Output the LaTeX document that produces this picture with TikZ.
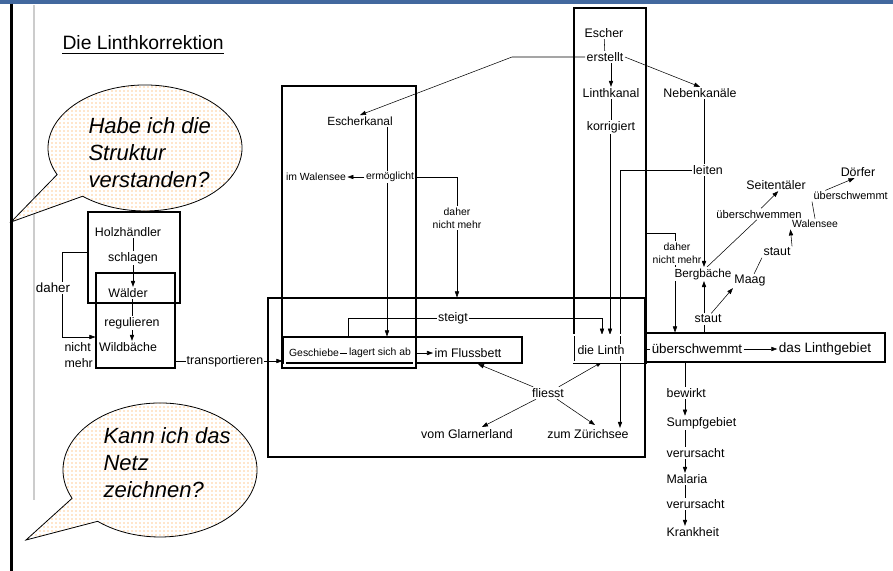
\documentclass[tikz,border=0pt]{standalone}
\usepackage{fontspec}
\setmainfont{Liberation Sans}
\usetikzlibrary{arrows.meta,patterns,fit}
\pgfdeclarelayer{bg}
\pgfsetlayers{bg,main}
\definecolor{balken}{RGB}{66,104,158}
\tikzset{
  lbl/.style={font=\fontsize{9.3}{12}\selectfont, inner sep=0.8pt, fill=white},
  lblklein/.style={lbl, font=\fontsize{7.8}{10}\selectfont},
  kasten/.style={draw, inner sep=0pt, line width=0.8pt},
  dickkasten/.style={draw, double, double distance=1pt, line width=0.5pt, inner sep=0pt},
  pfeil/.style={-{Triangle[length=4.5pt,width=3.2pt]}},
  bubble/.style={draw, line width=0.6pt, preaction={fill=white}, pattern=dots, pattern color=orange!85},
  bubtxt/.style={font=\fontsize{16.5}{20.3}\selectfont\itshape, align=left, inner sep=0pt},
  titel/.style={font=\fontsize{14.5}{16}\selectfont, inner sep=0pt},
}
\begin{document}
\begin{tikzpicture}[x=0.75pt,y=0.75pt,yscale=-1,xscale=1,line width=0.8pt]
  \useasboundingbox (0,0) rectangle (893,571);
  % Rahmen
  \fill[balken] (0,0) rectangle (893,3.5);
  \draw[line width=2.2pt] (11.5,3.5) -- (11.5,571);
  \draw[black!20, line width=0.8pt] (34,5) -- (34,500);
  % Titel
  \node[titel, anchor=base west] (titel) at (62,50) {Die Linthkorrektion};
  \draw (titel.south west) ++(0,3) coordinate (ul) -- (ul -| titel.south east);
  % Sprechblasen
  \path[bubble] (11,222) -- (57.1,174.6) arc[start angle=155, end angle=490, x radius=97, y radius=63] -- cycle;
  \node[bubtxt, anchor=north west] (frage1) at (88,117) {Habe ich die\\Struktur\\verstanden?};
  \path[bubble] (26,540) -- (72.1,498.3) arc[start angle=155, end angle=490, x radius=97, y radius=67] -- cycle;
  \node[bubtxt, anchor=north west] (frage2) at (103,427) {Kann ich das\\Netz\\zeichnen?};

  % Holzhaendler
  \node[kasten, fit={(88,212) (180,303)}] (holzbox) {};
  \node[kasten, fit={(96,273) (175,368)}] (waldbox) {};
  \node[lbl] (holz) at (128,232) {Holzhändler};
  \node[lbl] (schlagen) at (133,258) {schlagen};
  \node[lbl] (waelder) at (128,293) {Wälder};
  \node[lbl] (regul) at (132,323) {regulieren};
  \node[lbl] (wild) at (128,347) {Wildbäche};
  \node[lbl, font=\fontsize{10}{12}\selectfont] (daher) at (53,288) {daher};
  \node[lbl, align=left, anchor=west] (nichtmehr) at (63,355) {nicht\\mehr};
  \node[lbl] (transp) at (225,361) {transportieren};

  % Escherkanal / Flussbett
  \node[kasten, fit={(282,86) (416,368)}] (ekbox) {};
  \node[kasten, fit={(268,298) (645,457)}] (grossbox) {};
  \node[kasten, fit={(283,337) (522,363)}] (flussbox) {};
  \node[dickkasten, fit={(285,340) (414,366)}] (gbox) {};
  \node[lbl, font=\fontsize{8.9}{10}\selectfont] (eskanal) at (360,121) {Escherkanal};
  \node[lblklein] (ermoegl) at (390,177) {ermöglicht};
  \node[lblklein] (walen1) at (316,177) {im Walensee};
  \node[lblklein, align=center] (daher2) at (457,218) {daher\\nicht mehr};
  \node[lblklein] (geschiebe) at (314,353) {Geschiebe};
  \node[lblklein] (lagert) at (380,353) {lagert sich ab};
  \node[lbl] (flussbett) at (468,353) {im Flussbett};
  \node[lbl] (steigt) at (453,318) {steigt};
  \node[lbl] (fliesst) at (548,393) {fliesst};
  \node[lbl] (glarner) at (467,434) {vom Glarnerland};
  \node[lbl] (zuerich) at (588,434) {zum Zürichsee};

  % Escher
  \node[kasten, fit={(574,8) (646,363)}] (escherbox) {};
  \node[dickkasten, fit={(573,335) (643,362)}] (linthbox) {};
  \node[kasten, fit={(646,333) (885,362)}] (ueberbox) {};
  \node[lbl] (escher) at (604,33) {Escher};
  \node[lbl] (erstellt) at (605,57) {erstellt};
  \node[lbl] (lkanal) at (611,93) {Linthkanal};
  \node[lbl] (korr) at (611,127) {korrigiert};
  \node[lbl] (linth) at (601,350) {die Linth};
  \node[lbl] (neben) at (700,93) {Nebenkanäle};
  \node[lbl] (leiten) at (708,170) {leiten};
  \node[lblklein, align=center] (daher3) at (677,253) {daher\\nicht mehr};
  \node[lbl, font=\fontsize{8.8}{10}\selectfont] (berg) at (703,274) {Bergbäche};
  \node[lbl] (staut1) at (708,319) {staut};
  \node[lbl] (maag) at (750,281) {Maag};
  \node[lbl] (staut2) at (777,252) {staut};
  \node[lblklein] (walen2) at (815,224) {Walensee};
  \node[lblklein, font=\fontsize{8.2}{10}\selectfont, anchor=west] (ueber2) at (812,196) {überschwemmt};
  \node[lbl] (doerfer) at (858,172) {Dörfer};
  \node[lblklein, font=\fontsize{8.4}{10}\selectfont] (ueber1) at (759,214) {überschwemmen};
  \node[lbl] (seiten) at (776,185) {Seitentäler};
  \node[lbl, font=\fontsize{10}{12}\selectfont] (ueber3) at (697,349) {überschwemmt};
  \node[lbl, font=\fontsize{10.2}{12}\selectfont] (gebiet) at (825,349) {das Linthgebiet};
  \node[lbl, anchor=west] (bewirkt) at (665,393) {bewirkt};
  \node[lbl, anchor=west] (sumpf) at (665,423) {Sumpfgebiet};
  \node[lbl, anchor=west] (verurs1) at (665,453) {verursacht};
  \node[lbl, anchor=west] (malaria) at (665,479) {Malaria};
  \node[lbl, anchor=west] (verurs2) at (665,504) {verursacht};
  \node[lbl, anchor=west] (krank) at (665,532) {Krankheit};

  \begin{pgfonlayer}{bg}
    % links
    \draw (holz.south -| schlagen) -- (schlagen.north);
    \draw[pfeil] (schlagen) -- (waelder.north -| schlagen);
    \draw (waelder.south -| regul) -- (regul);
    \draw[pfeil] (regul) -- (wild.north -| regul);
    \coordinate (dh1) at (62,252);
    \coordinate (dh2) at (62,337);
    \draw[pfeil] (holzbox.west |- dh1) -- (dh1) -- (dh2) -- (waldbox.west |- dh2);
    \draw[pfeil] (waldbox.east |- transp) -- (flussbox.west |- transp);
    % Mitte
    \coordinate (ek) at (512,57);
    \draw[pfeil] (erstellt.west) -- (ek) -- (eskanal.north);
    \coordinate (ev) at (387,300);
    \draw (eskanal.south -| ev) -- (ermoegl.north -| ev);
    \draw[pfeil] (ermoegl.south -| ev) -- (flussbox.north -| ev);
    \draw[pfeil] (ermoegl) -- (walen1);
    \coordinate (dn) at (457,177);
    \draw[pfeil] (ermoegl.east) -- (dn) -- (grossbox.north -| dn);
    \draw (geschiebe) -- (lagert);
    \draw[pfeil] (gbox.east |- flussbett) -- (flussbett.west);
    \coordinate (st1) at (348,318);
    \coordinate (st2) at (602,318);
    \draw[pfeil] (flussbox.north -| st1) -- (st1) -- (st2) -- (linthbox.north -| st2);
    \coordinate (fl1) at (478,364);
    \coordinate (fl2) at (482,427);
    \coordinate (fl3) at (602,362);
    \coordinate (fl4) at (595,425);
    \draw[pfeil] (fliesst) -- (fl1);
    \draw[pfeil] (fliesst) -- (fl2);
    \draw[pfeil] (fliesst) -- (fl3);
    \draw[pfeil] (fliesst) -- (fl4);
    % rechts
    \draw (escher) -- (erstellt);
    \draw[pfeil] (erstellt.south -| lkanal) -- (lkanal.north);
    \draw (lkanal) -- (korr);
    \coordinate (kv) at (610,200);
    \draw[pfeil] (korr.south -| kv) -- (linthbox.north -| kv);
    \draw[pfeil] (erstellt.east) -- (neben.north);
    \coordinate (nv) at (704,200);
    \draw (neben.south -| nv) -- (leiten.north -| nv);
    \draw[pfeil] (leiten.south -| nv) -- (berg.north -| nv);
    \coordinate (lv) at (620,170);
    \draw[pfeil] (leiten.west) -- (lv) -- (zuerich.north -| lv);
    \coordinate (dr1) at (646,233);
    \coordinate (dr2) at (675,233);
    \draw[pfeil] (dr1) -- (dr2) -- (ueberbox.north -| dr2);
    \draw (ueberbox.north -| nv) -- (staut1.south -| nv);
    \draw[pfeil] (staut1.north -| nv) -- (berg.south -| nv);
    \draw[pfeil] (staut1.60) -- (maag.south west);
    \draw (maag.60) -- (staut2.south west);
    \draw[pfeil] (staut2.north east) -- (walen2.south west);
    \draw (walen2.north) -- (ueber2.south west);
    \draw[pfeil] ([xshift=10pt]ueber2.north west) -- (doerfer.240);
    \draw (berg.60) -- (ueber1.250);
    \draw[pfeil] (ueber1.70) -- (seiten.290);
    \draw (linthbox.east |- ueber3) -- (ueber3.west);
    \draw[pfeil] (ueber3) -- (gebiet);
    \coordinate (bv) at (685,400);
    \draw (ueberbox.south -| bv) -- (bewirkt.north -| bv);
    \draw[pfeil] (bewirkt.south -| bv) -- (sumpf.north -| bv);
    \draw (sumpf.south -| bv) -- (verurs1.north -| bv);
    \draw[pfeil] (verurs1.south -| bv) -- (malaria.north -| bv);
    \draw (malaria.south -| bv) -- (verurs2.north -| bv);
    \draw[pfeil] (verurs2.south -| bv) -- (krank.north -| bv);
  \end{pgfonlayer}
\end{tikzpicture}
\end{document}
